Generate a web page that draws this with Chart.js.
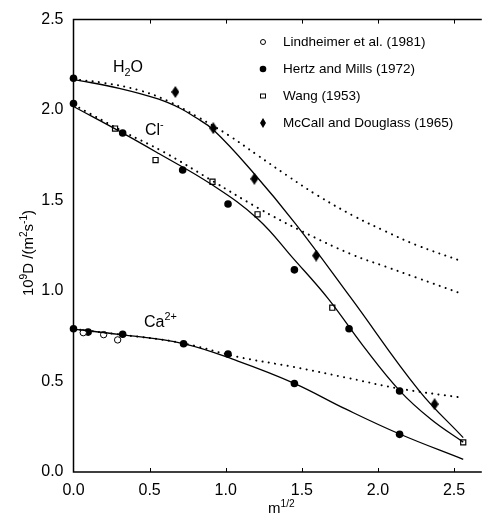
<!DOCTYPE html>
<html>
<head>
<meta charset="utf-8">
<script src="https://cdn.jsdelivr.net/npm/chart.js@4.4.0/dist/chart.umd.min.js"></script>
<style>
  html, body { margin: 0; padding: 0; background: #fff; overflow: hidden; }
  #chart { display: block; }
</style>
</head>
<body>
<canvas id="chart" width="487" height="514"></canvas>
<script>
// Data (x = m^1/2, y = 10^9 D / m^2 s^-1)
const xTicks = [0, 0.5, 1.0, 1.5, 2.0, 2.5];
const yTicks = [0, 0.5, 1.0, 1.5, 2.0, 2.5];

// Lindheimer et al. (1981) - open circles (Ca2+)
const lindX = [0.064, 0.198, 0.29];
const lindY = [0.770, 0.759, 0.730];

// Hertz and Mills (1972) - filled circles
const hertzX = [0, 0, 0.323, 0.717, 1.015, 1.451, 1.81, 2.142,
                0, 0.096, 0.323, 0.723, 1.015, 1.451, 2.142];
const hertzY = [2.176, 2.036, 1.873, 1.669, 1.481, 1.117, 0.792, 0.448,
                0.792, 0.773, 0.761, 0.709, 0.652, 0.489, 0.208];

// Wang (1953) - open squares (Cl-)
const wangX = [0.273, 0.539, 0.913, 1.209, 1.70, 2.56];
const wangY = [1.898, 1.724, 1.604, 1.424, 0.908, 0.164];

// McCall and Douglass (1965) - diamonds (H2O)
const mccallX = [0.669, 0.918, 1.188, 1.594, 2.372];
const mccallY = [2.10, 1.90, 1.62, 1.196, 0.375];

// solid curves
const h2oFitX = [0, 0.3, 0.56, 0.70, 0.80, 0.92, 1.17, 1.46, 1.82, 2.27, 2.56];
const h2oFitY = [2.17, 2.12, 2.06, 2.01, 1.96, 1.89, 1.665, 1.37, 0.965, 0.45, 0.19];
const clFitX = [0, 0.33, 0.56, 0.905, 1.209, 1.446, 1.674, 1.90, 2.142, 2.35, 2.56];
const clFitY = [2.02, 1.87, 1.76, 1.59, 1.40, 1.178, 0.957, 0.70, 0.45, 0.29, 0.165];
const caFitX = [0, 0.3, 0.72, 1.08, 1.45, 1.79, 2.142, 2.56];
const caFitY = [0.79, 0.76, 0.71, 0.613, 0.49, 0.347, 0.21, 0.07];

// dotted curves
const h2oDotX = [0, 0.2, 0.43, 0.62, 0.82, 1.02, 1.21, 1.40, 1.60, 1.84, 2.05, 2.25, 2.55];
const h2oDotY = [2.17, 2.15, 2.11, 2.05, 1.96, 1.86, 1.75, 1.64, 1.53, 1.415, 1.33, 1.255, 1.165];
const clDotX = [0, 0.33, 0.6, 0.91, 1.21, 1.49, 1.82, 2.05, 2.25, 2.55];
const clDotY = [2.03, 1.88, 1.765, 1.61, 1.46, 1.335, 1.205, 1.135, 1.075, 0.985];
const caDotX = [0, 0.3, 0.7, 1.08, 1.45, 1.8, 2.14, 2.56];
const caDotY = [0.79, 0.76, 0.715, 0.636, 0.58, 0.52, 0.461, 0.41];

const legendLabels = ['Lindheimer et al. (1981)', 'Hertz and Mills (1972)', 'Wang (1953)', 'McCall and Douglass (1965)'];

const FONT = '"Liberation Sans", Arial, Helvetica, sans-serif';

function pts(xs, ys) {
  return xs.map((x, i) => ({ x: x, y: ys[i] }));
}

// narrow filled diamond for McCall and Douglass
function makeDiamond(w, h) {
  const c = document.createElement('canvas');
  c.width = w; c.height = h;
  const g = c.getContext('2d');
  g.fillStyle = '#000';
  g.beginPath();
  g.moveTo(w / 2, 0);
  g.lineTo(w, h / 2);
  g.lineTo(w / 2, h);
  g.lineTo(0, h / 2);
  g.closePath();
  g.fill();
  return c;
}
const diamond = makeDiamond(8, 12);

function solidLine(xs, ys) {
  return {
    type: 'line', data: pts(xs, ys), borderColor: '#000', borderWidth: 1.3,
    pointRadius: 0, fill: false, tension: 0.4, clip: false
  };
}
function dottedLine(xs, ys) {
  return {
    type: 'line', data: pts(xs, ys), borderColor: '#000', borderWidth: 2,
    borderDash: [0.1, 6.3], borderCapStyle: 'round',
    pointRadius: 0, fill: false, tension: 0.4, clip: false
  };
}

// draw text with sub/superscripts; parts = [[text, 'sup'|'sub'|null], ...]
function richWidth(ctx, parts, size) {
  let w = 0;
  parts.forEach(p => {
    ctx.font = (p[1] ? size * 0.68 : size) + 'px ' + FONT;
    w += ctx.measureText(p[0]).width;
  });
  return w;
}
function drawRich(ctx, parts, x, y, size) {
  let cx = x;
  ctx.textBaseline = 'alphabetic';
  ctx.textAlign = 'left';
  parts.forEach(p => {
    const s = p[1] ? size * 0.68 : size;
    ctx.font = s + 'px ' + FONT;
    let dy = 0;
    if (p[1] === 'sup') dy = -size * 0.42;
    if (p[1] === 'sub') dy = size * 0.22;
    ctx.fillText(p[0], cx, y + dy);
    cx += ctx.measureText(p[0]).width;
  });
}

const decorPlugin = {
  id: 'decor',
  afterDraw(chart) {
    const ctx = chart.ctx;
    const a = chart.chartArea;
    const xs = chart.scales.x;
    ctx.save();
    ctx.fillStyle = '#000';
    ctx.strokeStyle = '#000';

    // axes box (left, bottom, top)
    ctx.lineWidth = 1.5;
    ctx.beginPath();
    ctx.moveTo(a.right, a.top);
    ctx.lineTo(a.left, a.top);
    ctx.lineTo(a.left, a.bottom);
    ctx.lineTo(a.right, a.bottom);
    ctx.stroke();

    // inner ticks
    ctx.lineWidth = 1;
    xTicks.forEach(v => {
      if (v === 0) return;
      const px = Math.round(xs.getPixelForValue(v)) + 0.5;
      ctx.beginPath();
      ctx.moveTo(px, a.bottom); ctx.lineTo(px, a.bottom - 4);
      ctx.moveTo(px, a.top); ctx.lineTo(px, a.top + 4);
      ctx.stroke();
    });

    // species labels
    drawRich(ctx, [['H', null], ['2', 'sub'], ['O', null]], 113, 72, 16);
    drawRich(ctx, [['Cl', null], ['-', 'sup']], 145, 135, 16);
    drawRich(ctx, [['Ca', null], ['2+', 'sup']], 144, 327, 16);

    // axis titles
    drawRich(ctx, [['m', null], ['1/2', 'sup']], 268, 513, 15);
    const yt = [['10', null], ['9', 'sup'], ['D /(m', null], ['2', 'sup'], ['s', null], ['-1', 'sup'], [')', null]];
    ctx.save();
    ctx.translate(33, 253);
    ctx.rotate(-Math.PI / 2);
    const w = richWidth(ctx, yt, 15);
    drawRich(ctx, yt, -w / 2, 0, 15);
    ctx.restore();

    // legend
    const lx = 263, tx = 283;
    const rows = [42, 69, 96, 123];
    ctx.font = '13.5px ' + FONT;
    ctx.textBaseline = 'middle';
    ctx.textAlign = 'left';
    legendLabels.forEach((lab, i) => {
      const y = rows[i];
      ctx.fillText(lab, tx, y + 0.5);
      ctx.lineWidth = 1;
      if (i === 0) {
        ctx.beginPath(); ctx.arc(lx, y, 2.5, 0, Math.PI * 2); ctx.stroke();
      } else if (i === 1) {
        ctx.beginPath(); ctx.arc(lx, y, 3.3, 0, Math.PI * 2); ctx.fill();
      } else if (i === 2) {
        ctx.strokeRect(lx - 2.5, y - 2, 5, 4);
      } else {
        ctx.drawImage(makeDiamond(6, 10), lx - 3, y - 5);
      }
    });
    ctx.restore();
  }
};

new Chart(document.getElementById('chart'), {
  type: 'scatter',
  data: {
    datasets: [
      solidLine(h2oFitX, h2oFitY),
      solidLine(clFitX, clFitY),
      solidLine(caFitX, caFitY),
      dottedLine(h2oDotX, h2oDotY),
      dottedLine(clDotX, clDotY),
      dottedLine(caDotX, caDotY),
      {
        label: legendLabels[0], data: pts(lindX, lindY), pointStyle: 'circle',
        pointRadius: 3.2, borderWidth: 1, borderColor: '#000', backgroundColor: '#fff', clip: false
      },
      {
        label: legendLabels[1], data: pts(hertzX, hertzY), pointStyle: 'circle',
        pointRadius: 3.8, borderWidth: 0, borderColor: '#000', backgroundColor: '#000', clip: false
      },
      {
        label: legendLabels[2], data: pts(wangX, wangY), pointStyle: 'rect',
        pointRadius: 3.6, borderWidth: 1.2, borderColor: '#000', backgroundColor: '#fff', clip: false
      },
      {
        label: legendLabels[3], data: pts(mccallX, mccallY), pointStyle: diamond, clip: false
      }
    ]
  },
  options: {
    responsive: false,
    animation: false,
    devicePixelRatio: 1,
    layout: { padding: { top: 18.5, right: 0, left: 0, bottom: 0 } },
    plugins: { legend: { display: false }, tooltip: { enabled: false } },
    scales: {
      x: {
        type: 'linear', min: 0, max: 2.682,
        grid: { display: false, drawTicks: false },
        border: { display: false },
        afterBuildTicks: s => { s.ticks = xTicks.map(v => ({ value: v })); },
        afterFit: s => { s.height = 42; },
        ticks: {
          padding: 9, color: '#000', font: { size: 16, family: FONT },
          callback: v => v.toFixed(1)
        }
      },
      y: {
        type: 'linear', min: 0, max: 2.5,
        grid: { display: false, drawTicks: false },
        border: { display: false },
        afterBuildTicks: s => { s.ticks = yTicks.map(v => ({ value: v })); },
        afterFit: s => { s.width = 73.5; },
        ticks: {
          padding: 10, color: '#000', font: { size: 16, family: FONT },
          callback: v => v.toFixed(1)
        }
      }
    }
  },
  plugins: [decorPlugin]
});
</script>
</body>
</html>
